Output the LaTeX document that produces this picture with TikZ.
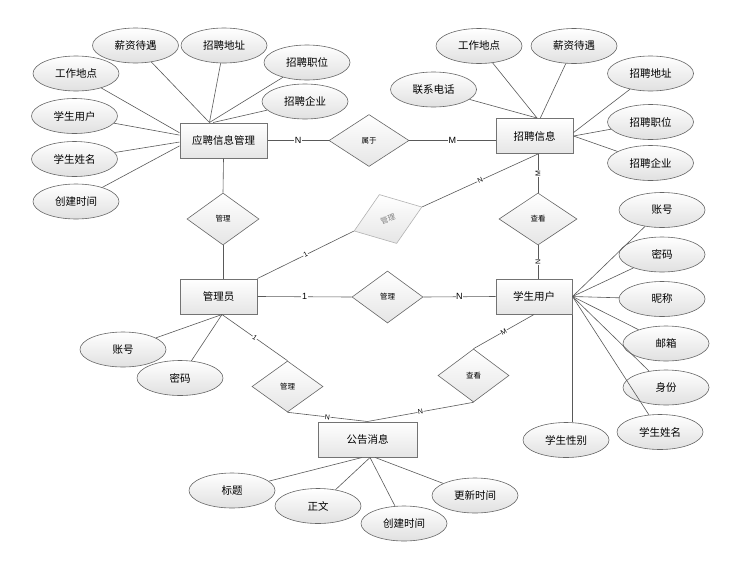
\documentclass[tikz,border=0pt]{standalone}
\usepackage{fontspec}
\setmainfont{Liberation Sans}
\newfontfamily\cjk{Noto Sans CJK SC}
\usetikzlibrary{shapes.geometric}

\tikzset{
    entity/.style={rectangle, draw=black!55, line width=1pt, top color=white, bottom color=black!10,
        minimum height=35pt, inner sep=0pt, font=\cjk\fontsize{10.5}{12}\selectfont},
    attr/.style={ellipse, draw=black!60, line width=0.6pt, top color=white, bottom color=black!12,
        minimum width=86pt, minimum height=35pt, inner sep=0pt, font=\cjk\fontsize{10.5}{12}\selectfont},
    rel/.style={diamond, draw=black!60, line width=0.6pt, top color=white, bottom color=black!10,
        minimum width=72pt, minimum height=52pt, inner sep=0pt, font=\cjk\fontsize{7.5}{9}\selectfont},
    conn/.style={draw=black!65, line width=0.6pt},
    card/.style={fill=white, inner sep=0.6pt, font=\fontsize{9}{10}\selectfont},
    smallcard/.style={fill=white, inner sep=0.5pt, font=\fontsize{7}{8}\selectfont}
}

\begin{document}
\begin{tikzpicture}[x=1pt,y=-1pt]
    \useasboundingbox (0,0) rectangle (753,571);

    % Entities
    \node[entity, minimum width=87pt] (yp) at (223.5,140.5) {应聘信息管理};
    \node[entity, minimum width=77pt] (zp) at (534.5,136) {招聘信息};
    \node[entity, minimum width=77pt] (gly) at (218.5,296.5) {管理员};
    \node[entity, minimum width=76pt] (xsyh) at (534,296.5) {学生用户};
    \node[entity, minimum width=99pt] (ggxx) at (367.5,439.5) {公告消息};

    % Relations
    \node[rel, minimum width=80pt] (sy) at (369,140.5) {属于};
    \node[rel] (gl1) at (223,219) {管理};
    \node[rel, draw=black!30, text=black!50, rotate=19.5] (gl2) at (388,219) {管理};
    \node[rel, minimum width=78pt] (ck1) at (538,219) {查看};
    \node[rel, minimum width=71pt] (gl3) at (387.5,297) {管理};
    \node[rel, minimum width=71pt, minimum height=51pt] (gl4) at (287.5,386.5) {管理};
    \node[rel, minimum width=71pt, minimum height=53pt] (ck2) at (473.5,375.5) {查看};

    % Attributes of 应聘信息管理
    \node[attr] (xzdy1) at (135.5,45.5) {薪资待遇};
    \node[attr] (zpdz1) at (224,45.5) {招聘地址};
    \node[attr] (gzdd1) at (76,73.5) {工作地点};
    \node[attr] (zpzw1) at (307,62.5) {招聘职位};
    \node[attr] (zpqy1) at (305,101.5) {招聘企业};
    \node[attr] (xsyh1) at (74.5,116) {学生用户};
    \node[attr] (xsxm1) at (74.5,159) {学生姓名};
    \node[attr] (cjsj1) at (76,201.5) {创建时间};

    % Attributes of 招聘信息
    \node[attr] (gzdd2) at (479,46) {工作地点};
    \node[attr] (xzdy2) at (574,46) {薪资待遇};
    \node[attr] (lxdh) at (433.5,89.5) {联系电话};
    \node[attr] (zpdz2) at (650.5,73.5) {招聘地址};
    \node[attr] (zpzw2) at (650.5,122) {招聘职位};
    \node[attr] (zpqy2) at (650.5,163) {招聘企业};

    % Attributes of 管理员
    \node[attr] (zh1) at (123,349.5) {账号};
    \node[attr] (mm1) at (180,378) {密码};

    % Attributes of 公告消息
    \node[attr] (bt) at (232,490.5) {标题};
    \node[attr] (zw) at (318,506) {正文};
    \node[attr] (cjsj2) at (404,523.5) {创建时间};
    \node[attr] (gxsj) at (475,495.5) {更新时间};

    % Attributes of 学生用户
    \node[attr] (zh2) at (662,210) {账号};
    \node[attr] (mm2) at (662,254.5) {密码};
    \node[attr] (nc) at (662,299) {昵称};
    \node[attr] (yx) at (666,343.5) {邮箱};
    \node[attr] (sf) at (666,387.5) {身份};
    \node[attr] (xsxm2) at (660,432) {学生姓名};
    \node[attr] (xsxb) at (566,440) {学生性别};

    % Attribute lines
    \draw[conn] (gzdd1) -- (yp.170);
    \draw[conn] (xsyh1) -- (yp.173);
    \draw[conn] (xsxm1) -- (yp.182);
    \draw[conn] (cjsj1) -- (yp.187);
    \draw[conn] (xzdy1) -- (yp.128);
    \draw[conn] (zpdz1) -- (yp.128);
    \draw[conn] (zpzw1) -- (yp.128);
    \draw[conn] (zpqy1) -- (yp.120);

    \draw[conn] (lxdh) -- (zp.82);
    \draw[conn] (gzdd2) -- (zp.82);
    \draw[conn] (xzdy2) -- (zp.72);
    \draw[conn] (zpdz2) -- (zp.5);
    \draw[conn] (zpzw2) -- (zp.east);
    \draw[conn] (zpqy2) -- (zp.east);

    \draw[conn] (zh1) -- (gly.281);
    \draw[conn] (mm1) -- (gly.281);

    \draw[conn] (bt) -- (ggxx.253);
    \draw[conn] (zw) -- (ggxx.278);
    \draw[conn] (cjsj2) -- (ggxx.278);
    \draw[conn] (gxsj) -- (ggxx.293);

    \draw[conn] (zh2) -- (xsyh.east);
    \draw[conn] (mm2) -- (xsyh.east);
    \draw[conn] (nc) -- (xsyh.east);
    \draw[conn] (yx) -- (xsyh.east);
    \draw[conn] (sf) -- (xsyh.east);
    \draw[conn] (xsxm2) -- (xsyh.east);
    \draw[conn] (xsyh.south east) -- (xsyh.south east |- xsxb.north);

    % Relation lines
    \coordinate (zpb) at (ck1.north |- zp.south);
    \draw[conn] (yp.east) -- node[card] {N} (sy.west);
    \draw[conn] (sy.east) -- node[card] {M} (sy.east -| zp.west);
    \draw[conn] (yp.south) -- (gl1.north);
    \draw[conn] (gl1.south) -- (gl1.south |- gly.north);
    \draw[conn] (zpb) -- node[smallcard, rotate=90] {M} (ck1.north);
    \draw[conn] (ck1.south) -- node[smallcard, rotate=90] {N} (ck1.south |- xsyh.north);
    \draw[conn] (gly.east) -- node[card] {1} (gl3.west);
    \draw[conn] (gl3.east) -- node[card] {N} (xsyh.west);
    \draw[conn] (gly.north east) -- node[smallcard, sloped] {1} (gl2.west);
    \draw[conn] (gl2.east) -- node[smallcard, sloped] {N} (zpb);
    \draw[conn] (gly.281) -- node[smallcard, sloped] {1} (gl4.north);
    \draw[conn] (gl4.south) -- node[smallcard, sloped] {N} (ggxx.north);
    \draw[conn] (ggxx.north) -- node[smallcard, sloped] {N} (ck2.south);
    \draw[conn] (ck2.north) -- node[smallcard, sloped] {M} (xsyh.south);
\end{tikzpicture}
\end{document}
